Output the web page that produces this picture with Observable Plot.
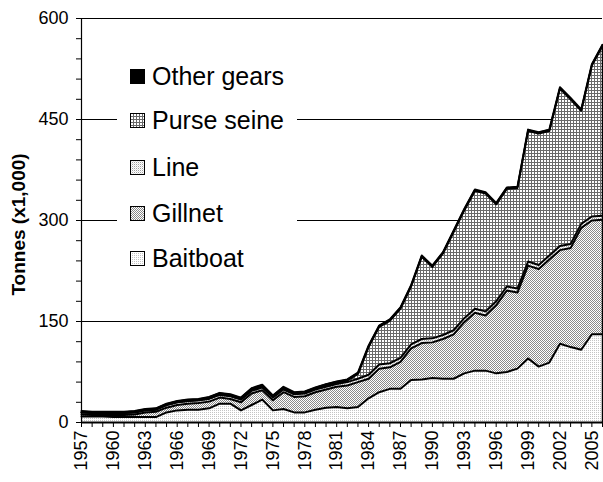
<!DOCTYPE html>
<html><head><meta charset="utf-8">
<script src="https://cdn.jsdelivr.net/npm/d3@7"></script>
<script src="https://cdn.jsdelivr.net/npm/@observablehq/plot@0.6"></script>
<style>
body{margin:0;background:#fff;font-family:"Liberation Sans",Arial,sans-serif;}
#wrap{position:relative;width:603px;height:482px;}
#legend{position:absolute;left:117px;top:52px;width:180px;height:232px;background:#fff;}
.row{position:absolute;left:13px;height:30px;display:flex;align-items:center;font-size:25px;color:#000;white-space:nowrap;font-family:"Liberation Sans",Arial,sans-serif;}
.row svg{margin-right:7px;flex:none}
</style></head><body>
<svg width="0" height="0" style="position:absolute">
<defs>
<pattern id="pBait" patternUnits="userSpaceOnUse" width="2" height="2"><rect width="2" height="2" fill="#fff"/><rect x="0" y="0" width="1" height="1" fill="#c4c4c4"/></pattern>
<pattern id="pGill" patternUnits="userSpaceOnUse" width="2" height="2"><rect width="2" height="2" fill="#fff"/><rect x="0" y="0" width="1" height="1" fill="#8a8a8a"/><rect x="1" y="1" width="1" height="1" fill="#8a8a8a"/></pattern>
<pattern id="pLine" patternUnits="userSpaceOnUse" width="2" height="2"><rect width="2" height="2" fill="#fff"/><rect x="0" y="0" width="1" height="1" fill="#a0a0a0"/><rect x="1" y="1" width="1" height="1" fill="#e0e0e0"/></pattern>
<pattern id="pPurse" patternUnits="userSpaceOnUse" width="3" height="3"><rect width="3" height="3" fill="#fff"/><path d="M0,0.5H3M0.5,0V3" stroke="#6a6a6a" stroke-width="1"/></pattern>
</defs></svg>
<div id="wrap"></div>
<script>
const years = d3.range(1957, 2007);
const gears = ["Baitboat", "Gillnet", "Line", "Purse seine", "Other gears"];
const legendOrder = ["Other gears", "Purse seine", "Line", "Gillnet", "Baitboat"];
const baitboat = [9,9,9,8,8,8,8,8,15,18,19,19,21,28,28,18,26,34,18,20,15,15,19,22,23,21,23,36,45,50,50,63,64,66,65,65,73,77,77,73,75,80,95,83,89,117,112,108,131,131];
const gillnet = [3,2,2,3,3,4,7,8,7,8,9,10,10,9,7,12,17,14,15,25,23,24,26,27,30,34,37,29,35,32,40,47,54,53,59,66,76,86,82,101,121,113,138,145,153,139,147,181,169,170];
const line = [3,3,3,3,3,3,3,3,4,4,4,4,4,4,4,4,4,4,4,4,4,4,4,4,4,5,5,6,6,6,6,6,6,6,6,6,6,6,6,6,6,6,6,6,6,6,6,6,6,6];
const purseSeine = [0,0,0,0,0,0,0,0,0,0,0,0,1,1,1,1,2,2,1,2,1,1,1,2,2,2,7,41,56,63,73,86,122,106,121,146,160,175,175,144,145,149,194,195,185,234,215,168,224,252];
const otherGears = [2,2,2,2,2,2,2,2,2,2,2,2,2,2,2,2,2,2,2,2,2,2,2,2,2,2,2,2,2,2,2,2,2,2,2,2,2,2,2,2,2,2,2,2,2,2,2,2,2,2];
const yTicks = d3.range(0, 601, 30);
const gridValues = [150, 300, 450, 600];
const fills = ["url(#pBait)", "url(#pGill)", "url(#pLine)", "url(#pPurse)", "#000"];

const seriesVals = [baitboat, gillnet, line, purseSeine, otherGears];
const rows = years.flatMap((yr, i) => gears.map((g, k) => ({year: yr, gear: g, value: seriesVals[k][i]})));
const lastYear = years[years.length - 1];
const lastTotal = d3.sum(seriesVals, s => s[s.length - 1]);

const chart = Plot.plot({
  width: 603, height: 482,
  marginLeft: 81, marginRight: 1, marginTop: 18, marginBottom: 60,
  style: {fontFamily: "'Liberation Sans', Arial, sans-serif", fontSize: "18px", color: "#000", background: "#fff"},
  x: {type: "linear", domain: [1957, 2006]},
  y: {domain: [0, 600]},
  color: {type: "ordinal", domain: gears, range: fills},
  marks: [
    Plot.ruleY(gridValues, {stroke: "#000", strokeWidth: 1}),
    Plot.areaY(rows, {x: "year", y: "value", z: "gear", fill: "gear", order: gears}),
    Plot.lineY(rows, Plot.stackY2({x: "year", y: "value", z: "gear", order: gears, stroke: "#000", strokeWidth: 2})),
    Plot.ruleX([lastYear], {y1: 0, y2: lastTotal, stroke: "#000", strokeWidth: 1.5}),
    Plot.ruleY([0], {stroke: "#000", strokeWidth: 2}),
    Plot.ruleX([1957], {stroke: "#000", strokeWidth: 1.2}),
    Plot.axisY({ticks: yTicks, tickFormat: d => d % 150 === 0 ? String(d) : "", tickSize: 5, tickPadding: 8, label: null, stroke: "#000"}),
    Plot.axisX({ticks: years, tickFormat: d => (d - 1957) % 3 === 0 ? String(d) : "", tickRotate: -90, tickSize: 5, tickPadding: 3, label: null, stroke: "#000"}),
    Plot.text(["Tonnes (x1,000)"], {text: d => d, frameAnchor: "left", textAnchor: "middle", rotate: -90, dx: -63, dy: 4, fontWeight: "bold", fontSize: 19, fill: "#000"})
  ]
});
const wrap = document.getElementById("wrap");
wrap.appendChild(chart);

const legend = document.createElement("div");
legend.id = "legend";
const centers = [24, 68, 115, 161, 206];
legendOrder.forEach((g, i) => {
  const row = document.createElement("div");
  row.className = "row";
  row.style.top = (centers[i] - 15) + "px";
  const f = fills[gears.indexOf(g)];
  row.innerHTML = `<svg width="15" height="15"><rect x="0.5" y="0.5" width="14" height="14" fill="${f}" stroke="#000" stroke-width="1"/></svg><span>${g}</span>`;
  legend.appendChild(row);
});
wrap.appendChild(legend);
</script>
</body></html>
